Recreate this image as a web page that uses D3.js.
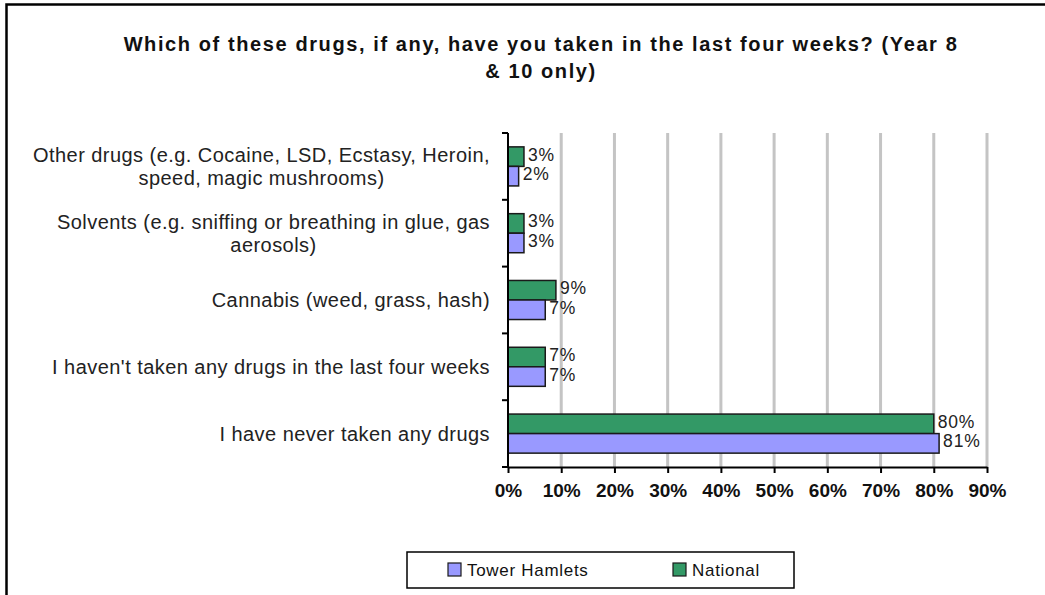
<!DOCTYPE html>
<html>
<head>
<meta charset="utf-8">
<script src="https://cdn.jsdelivr.net/npm/d3@7"></script>
<style>
  body { margin: 0; background: #fff; }
  svg { display: block; }
  text { font-family: "Liberation Sans", Arial, sans-serif; }
</style>
</head>
<body>
<svg id="chart" width="1045" height="595"></svg>
<script>
// Survey responses (percent of Year 8 & 10 pupils)
const titleLines = [
  "Which of these drugs, if any, have you taken in the last four weeks? (Year 8",
  "& 10 only)"
];
const categories = [
  "Other drugs (e.g. Cocaine, LSD, Ecstasy, Heroin, speed, magic mushrooms)",
  "Solvents (e.g. sniffing or breathing in glue, gas aerosols)",
  "Cannabis (weed, grass, hash)",
  "I haven't taken any drugs in the last four weeks",
  "I have never taken any drugs"
];
const seriesNames = ["National", "Tower Hamlets"];
const nationalValues = [3, 3, 9, 7, 80];
const towerHamletsValues = [2, 3, 7, 7, 81];
const xTickValues = [0, 10, 20, 30, 40, 50, 60, 70, 80, 90];
const legendOrder = ["Tower Hamlets", "National"];

const colors = { "National": "#339966", "Tower Hamlets": "#9999ff" };
const rows = categories.map((c, i) => ({
  category: c,
  values: [
    { series: "National", value: nationalValues[i] },
    { series: "Tower Hamlets", value: towerHamletsValues[i] }
  ]
}));

const svg = d3.select("#chart");
const plot = { left: 508, right: 987, top: 133, bottom: 467 };

// outer frame
svg.append("rect")
  .attr("x", 6.5).attr("y", 4.5)
  .attr("width", 1200).attr("height", 800)
  .attr("fill", "none").attr("stroke", "#000").attr("stroke-width", 2.5);

// title
svg.append("g").selectAll("text").data(titleLines).join("text")
  .attr("x", 541).attr("y", (d, i) => 51 + i * 27)
  .attr("text-anchor", "middle")
  .attr("font-size", 20).attr("font-weight", "bold")
  .attr("letter-spacing", 1.6)
  .attr("fill", "#111")
  .text(d => d);

const x = d3.scaleLinear().domain([0, 90]).range([plot.left, plot.right]);
const y = d3.scaleBand().domain(categories).range([plot.top, plot.bottom]);
const ySeries = d3.scaleBand().domain(seriesNames)
  .range([0, y.bandwidth()]).paddingInner(0).paddingOuter(0.71);

// vertical gridlines
svg.append("g").selectAll("line").data(xTickValues.filter(v => v > 0)).join("line")
  .attr("x1", d => x(d)).attr("x2", d => x(d))
  .attr("y1", plot.top).attr("y2", plot.bottom)
  .attr("stroke", "#c4c4c4").attr("stroke-width", 3);

// bars
const groups = svg.append("g").selectAll("g").data(rows).join("g")
  .attr("transform", d => `translate(0,${y(d.category)})`);

groups.selectAll("rect").data(d => d.values).join("rect")
  .attr("x", x(0))
  .attr("y", d => ySeries(d.series))
  .attr("width", d => x(d.value) - x(0))
  .attr("height", ySeries.bandwidth())
  .attr("fill", d => colors[d.series])
  .attr("stroke", "#1a1a1a").attr("stroke-width", 1.5);

// value labels
groups.selectAll("text").data(d => d.values).join("text")
  .attr("x", d => x(d.value) + 4)
  .attr("y", d => ySeries(d.series) + ySeries.bandwidth() / 2 + 4)
  .attr("font-size", 17.5).attr("letter-spacing", 0.8).attr("fill", "#222")
  .text(d => d.value + "%");

// y axis with category boundary ticks
const yAxisG = svg.append("g").attr("transform", `translate(${plot.left},0)`);
yAxisG.append("line")
  .attr("x1", 0).attr("x2", 0).attr("y1", plot.top).attr("y2", plot.bottom)
  .attr("stroke", "#000").attr("stroke-width", 2);
yAxisG.selectAll("line.tick")
  .data(d3.range(categories.length + 1))
  .join("line").attr("class", "tick")
  .attr("x1", -6).attr("x2", 0)
  .attr("y1", i => plot.top + i * y.step()).attr("y2", i => plot.top + i * y.step())
  .attr("stroke", "#000").attr("stroke-width", 2);

// x axis
const xAxis = d3.axisBottom(x).tickValues(xTickValues).tickSize(6).tickSizeOuter(0)
  .tickFormat(d => d + "%");
const xAxisG = svg.append("g").attr("transform", `translate(0,${plot.bottom})`).call(xAxis);
xAxisG.select(".domain").attr("stroke", "#000").attr("stroke-width", 2);
xAxisG.selectAll(".tick line").attr("stroke", "#000").attr("stroke-width", 2);
xAxisG.selectAll(".tick text")
  .attr("y", 17).attr("dy", "0.71em")
  .attr("font-family", "Liberation Sans, Arial, sans-serif")
  .attr("font-size", 19).attr("font-weight", "bold").attr("fill", "#111");

// category labels: wrapped, lines centered on each other, block right-aligned at the axis
const labelRight = 490;
const lineHeight = 23;
const labelFont = 20, labelSpacing = 0.45;
const labelG = svg.append("g");
categories.forEach(cat => {
  const words = cat.split(" ");
  const probe = labelG.append("text").attr("font-size", labelFont).attr("letter-spacing", labelSpacing);
  const lines = [];
  let cur = [];
  words.forEach(w => {
    const test = cur.concat(w).join(" ");
    probe.text(test);
    if (probe.node().getComputedTextLength() > 475 && cur.length) {
      lines.push(cur.join(" "));
      cur = [w];
    } else cur.push(w);
  });
  lines.push(cur.join(" "));
  const widths = lines.map(l => { probe.text(l); return probe.node().getComputedTextLength(); });
  probe.remove();
  const maxW = d3.max(widths);
  const cx = labelRight - maxW / 2;
  const cy = y(cat) + y.bandwidth() / 2;
  labelG.append("g").selectAll("text").data(lines).join("text")
    .attr("x", cx)
    .attr("y", (d, i) => cy + (i - (lines.length - 1) / 2) * lineHeight + 7)
    .attr("text-anchor", "middle")
    .attr("font-size", labelFont).attr("letter-spacing", labelSpacing).attr("fill", "#222")
    .text(d => d);
});

// legend
const legend = svg.append("g");
legend.append("rect")
  .attr("x", 407).attr("y", 552).attr("width", 387).attr("height", 36)
  .attr("fill", "#fff").attr("stroke", "#000").attr("stroke-width", 1.5);
const legendX = d3.scalePoint().domain(legendOrder).range([448, 673]);
const items = legend.selectAll("g.item").data(legendOrder).join("g").attr("class", "item")
  .attr("transform", d => `translate(${legendX(d)},563)`);
items.append("rect")
  .attr("width", 13).attr("height", 13)
  .attr("fill", d => colors[d]).attr("stroke", "#1a1a1a").attr("stroke-width", 1.2);
items.append("text")
  .attr("x", 19).attr("y", 12.5)
  .attr("font-size", 17).attr("letter-spacing", 0.7).attr("fill", "#111")
  .text(d => d);
</script>
</body>
</html>
